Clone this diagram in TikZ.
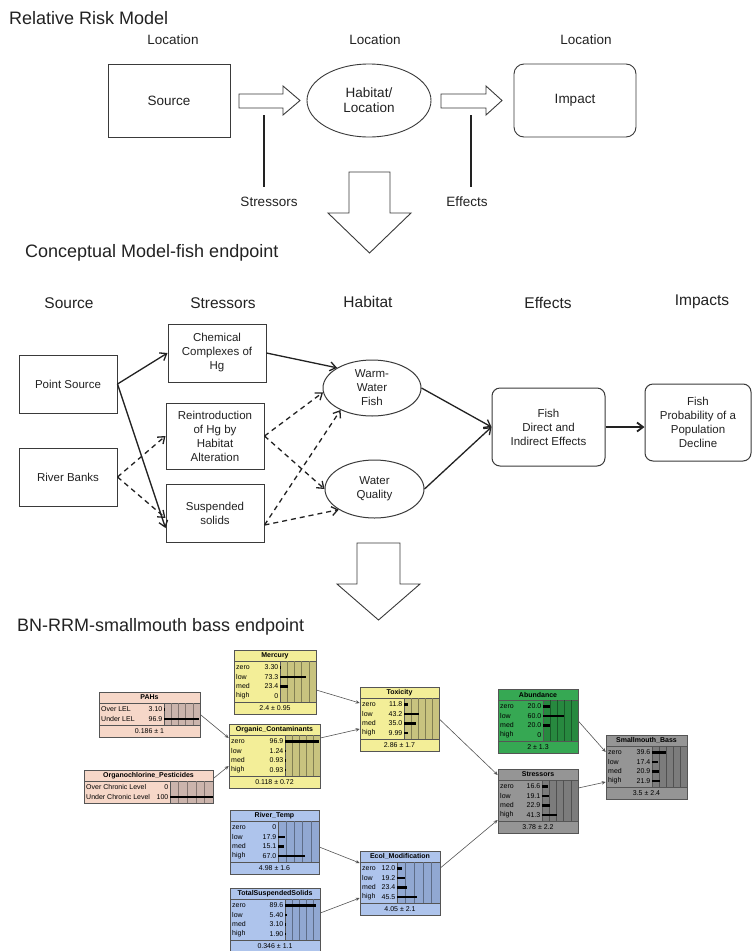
\documentclass[tikz,border=0pt]{standalone}
\usepackage{fontspec}
\setmainfont{Liberation Sans}
\usepackage{xcolor}
\usepackage{tikz}
\usetikzlibrary{shapes.geometric,arrows.meta,positioning,calc}
\definecolor{tinta}{HTML}{222222}
\definecolor{borde}{HTML}{3A3A3A}
\definecolor{bnborde}{HTML}{555555}
\definecolor{amarillo}{HTML}{F3EE98}
\definecolor{amarillooscuro}{HTML}{C8C37F}
\definecolor{rosa}{HTML}{F6D7C8}
\definecolor{rosaoscuro}{HTML}{CBB4AC}
\definecolor{verdebn}{HTML}{36A853}
\definecolor{verdebnoscuro}{HTML}{27893F}
\definecolor{grisbn}{HTML}{959595}
\definecolor{grisbnoscuro}{HTML}{7C7C7C}
\definecolor{azulbn}{HTML}{AEC4EC}
\definecolor{azulbnoscuro}{HTML}{91A8D2}
\tikzset{
  titulo/.style={anchor=west,font=\fontsize{18}{20}\selectfont,text=tinta,inner sep=0pt},
  rotulo/.style={font=\fontsize{13.5}{15}\selectfont,text=tinta,inner sep=0pt},
  cabecera/.style={font=\fontsize{15.5}{17}\selectfont,text=tinta,inner sep=0pt},
  bloque/.style={draw=borde,line width=0.9pt,minimum width=122pt,minimum height=73pt,align=center,font=\fontsize{13.5}{15}\selectfont,text=tinta},
  caja/.style={draw=borde,line width=1pt,align=center,font=\fontsize{11.5}{14}\selectfont,text=tinta,inner sep=2pt},
  cajar/.style={caja,rounded corners=8pt},
  elipse/.style={caja,ellipse,inner sep=0pt},
  hueca/.style={draw=borde,line width=0.9pt,fill=white,line join=miter},
  linea/.style={draw=tinta,line width=1.2pt},
  flecha/.style={-{Straight Barb[length=6pt,width=9pt]},line width=1.3pt,tinta},
  flechad/.style={flecha,dash pattern=on 5pt off 4pt},
  bncaja/.style={draw=bnborde,line width=0.6pt,inner sep=0pt},
  bnlinea/.style={draw=bnborde,line width=0.6pt},
  bntitulo/.style={font=\fontsize{7}{8}\selectfont\bfseries,inner sep=0pt},
  bntexto/.style={font=\fontsize{7}{8}\selectfont,inner sep=0pt},
  bnbarra/.style={line width=2.5pt,black},
  bnflecha/.style={-{Stealth[length=4pt,width=3.5pt]},line width=0.6pt,draw=bnborde},
}
% #1 nombre, #2 x, #3 y, #4 ancho, #5 inicio barras, #6 color, #7 titulo, #8 filas, #9 pie
\newcommand{\nodobn}[9]{%
  \foreach \etq/\val [count=\k] in {#8} {\xdef\nfilas{\k}}%
  \pgfmathsetmacro\yfilas{#3+11+9.5*\nfilas+3}%
  \if\relax\detokenize{#9}\relax\edef\ypie{\yfilas}\else\pgfmathsetmacro\ypie{\yfilas+12}\fi
  \node[bncaja,fill=#6,minimum width=#4,minimum height=\ypie-#3] (#1) at (#2+#4/2,{(#3+\ypie)/2}) {};
  \draw[bnlinea,fill=#6] (#2,#3) rectangle (#2+#4,#3+11);
  \node[bntitulo] at (#2+#4/2,#3+5.5) {#7};
  \draw[bnlinea,fill=#6oscuro] (#2+#5,#3+11) rectangle (#2+#4,\yfilas);
  \foreach \j in {1,...,4}
    \draw[draw=#6oscuro!65!black,line width=0.4pt] ({#2+#5+\j*(#4-#5)/5},#3+11) -- ({#2+#5+\j*(#4-#5)/5},\yfilas);
  \foreach \etq/\val [count=\k] in {#8} {
    \pgfmathsetmacro\yf{#3+11+1.5+(\k-0.5)*9.5}
    \node[bntexto,anchor=west] at (#2+2,\yf) {\etq};
    \node[bntexto,anchor=east] at (#2+#5-1.5,\yf) {\val};
    \draw[bnbarra] (#2+#5,\yf) -- ++({\val*(#4-#5)/100},0);
  }
  \if\relax\detokenize{#9}\relax\else
    \draw[bnlinea] (#2,\yfilas) -- (#2+#4,\yfilas);
    \node[bntexto] at (#2+#4/2,\yfilas+6) {#9};
  \fi
}

\begin{document}
\begin{tikzpicture}[x=1pt,y=-1pt]
  \useasboundingbox (0,0) rectangle (753,951);
  \fill[white] (0,0) rectangle (753,951);

  % modelo de riesgo relativo
  \node[titulo] (t1) at (9,18) {Relative Risk Model};
  \node[rotulo] (loc1) at (173,40) {Location};
  \node[rotulo] (loc2) at (375,40) {Location};
  \node[rotulo] (loc3) at (586,40) {Location};
  \node[bloque] (fuente) at (169,100.5) {Source};
  \node[bloque,ellipse,minimum width=124pt] (habitat) at (369,100.5) {Habitat/\\Location};
  \node[bloque,rounded corners=10pt] (impacto) at (575,100.5) {Impact};
  \draw[hueca] (239,94) -- (283,94) -- (283,86) -- (300,100.5) -- (283,115) -- (283,108) -- (239,108) -- cycle;
  \draw[hueca] (441,94) -- (486,94) -- (486,86) -- (502,100.5) -- (486,115) -- (486,108) -- (441,108) -- cycle;
  \draw[linea] (264,115) -- (264,187);
  \draw[linea] (471,115) -- (471,187);
  \node[rotulo] (estres) at (269,202) {Stressors};
  \node[rotulo] (efec) at (467,202) {Effects};
  \draw[hueca] (349,172) -- (390,172) -- (390,213) -- (411,213) -- (369.5,253) -- (328,213) -- (349,213) -- cycle;

  % modelo conceptual
  \node[titulo] (t2) at (25,253) {Conceptual Model-fish endpoint};
  \node[cabecera] (h1) at (69,303) {Source};
  \node[cabecera] (h2) at (223,303) {Stressors};
  \node[cabecera] (h3) at (368,302) {Habitat};
  \node[cabecera] (h4) at (548,303) {Effects};
  \node[cabecera] (h5) at (702,302) {Impacts};
  \node[caja,minimum width=98pt,minimum height=58pt] (puntual) at (68,384) {Point Source};
  \node[caja,minimum width=98pt,minimum height=58pt] (riberas) at (68,477) {River Banks};
  \node[caja,minimum width=98pt,minimum height=58pt] (quimico) at (217,353) {Chemical\\Complexes of\\Hg};
  \node[caja,minimum width=98pt,minimum height=66pt] (reintro) at (215,436) {Reintroduction\\of Hg by\\Habitat\\Alteration};
  \node[caja,minimum width=98pt,minimum height=58pt] (solidos) at (215,513) {Suspended\\solids};
  \node[elipse,minimum width=98pt,minimum height=56pt] (calida) at (372,388) {Warm-\\Water\\Fish};
  \node[elipse,minimum width=99pt,minimum height=58pt] (calidad) at (374.5,489) {Water\\Quality};
  \node[cajar,minimum width=113pt,minimum height=78pt] (efectos) at (548.5,427) {Fish\\Direct and\\Indirect Effects};
  \node[cajar,minimum width=106pt,minimum height=77pt] (impactos) at (698,422.5) {Fish\\Probability of a\\Population\\Decline};
  \draw[flecha] (puntual.east) -- (quimico.west);
  \draw[flecha] (puntual.east) -- ($(solidos.west)+(0,15)$);
  \draw[flechad] (riberas.east) -- (reintro.west);
  \draw[flechad] (riberas.east) -- ($(solidos.west)+(0,5)$);
  \draw[flecha] (quimico.east) -- (calida.150);
  \draw[flechad] (reintro.east) -- (calida.185);
  \draw[flechad] (reintro.east) -- (calidad.west);
  \draw[flechad] ($(solidos.east)+(0,12)$) -- (calida.215);
  \draw[flechad] ($(solidos.east)+(0,12)$) -- (calidad.210);
  \draw[flecha] (calida.east) -- (efectos.west);
  \draw[flecha] (calidad.east) -- (efectos.west);
  \draw[flecha,line width=1.8pt] (efectos.east) -- (efectos.east -| impactos.west);
  \draw[hueca] (357,543) -- (400,543) -- (400,584) -- (420,584) -- (378.5,620) -- (337,584) -- (357,584) -- cycle;

  % red bayesiana
  \node[titulo] (t3) at (17,627) {BN-RRM-smallmouth bass endpoint};
  \nodobn{merc}{234}{650}{82}{46}{amarillo}{Mercury}{zero/3.30,low/73.3,med/23.4,high/0}{2.4 ± 0.95}
  \nodobn{pahs}{99}{692}{101}{65}{rosa}{PAHs}{Over LEL/3.10,Under LEL/96.9}{0.186 ± 1}
  \nodobn{orga}{84}{770}{129}{86}{rosa}{Organochlorine\_Pesticides}{Over Chronic Level/0,Under Chronic Level/100}{}
  \nodobn{orgc}{229}{724}{91}{56}{amarillo}{Organic\_Contaminants}{zero/96.9,low/1.24,med/0.93,high/0.93}{0.118 ± 0.72}
  \nodobn{tox}{360}{687}{79}{44}{amarillo}{Toxicity}{zero/11.8,low/43.2,med/35.0,high/9.99}{2.86 ± 1.7}
  \nodobn{abun}{498}{689}{80}{45}{verdebn}{Abundance}{zero/20.0,low/60.0,med/20.0,high/0}{2 ± 1.3}
  \nodobn{estr}{498}{769}{80}{44}{grisbn}{Stressors}{zero/16.6,low/19.1,med/22.9,high/41.3}{3.78 ± 2.2}
  \nodobn{smb}{606}{735}{81}{46}{grisbn}{Smallmouth\_Bass}{zero/39.6,low/17.4,med/20.9,high/21.9}{3.5 ± 2.4}
  \nodobn{rtemp}{230}{810}{89}{48}{azulbn}{River\_Temp}{zero/0,low/17.9,med/15.1,high/67.0}{4.98 ± 1.6}
  \nodobn{tss}{230}{888}{90}{55}{azulbn}{TotalSuspendedSolids}{zero/89.6,low/5.40,med/3.10,high/1.90}{0.346 ± 1.1}
  \nodobn{ecol}{360}{851}{80}{37}{azulbn}{Ecol\_Modification}{zero/12.0,low/19.2,med/23.4,high/45.5}{4.05 ± 2.1}
  \draw[bnflecha] ($(merc.east)+(0,8)$) -- ($(tox.west)+(0,-16)$);
  \draw[bnflecha] ($(orgc.east)+(0,-18)$) -- ($(tox.west)+(0,10)$);
  \draw[bnflecha] (pahs.east) -- ($(orgc.west)+(0,-18)$);
  \draw[bnflecha] ($(orga.east)+(0,-8)$) -- ($(orgc.west)+(0,10)$);
  \draw[bnflecha] (tox.east) -- ($(estr.west)+(0,-26)$);
  \draw[bnflecha] ($(ecol.east)+(0,-15)$) -- ($(estr.west)+(0,19)$);
  \draw[bnflecha] (abun.east) -- ($(smb.west)+(0,-15)$);
  \draw[bnflecha] ($(estr.east)+(0,-13)$) -- ($(smb.west)+(0,15)$);
  \draw[bnflecha] ($(rtemp.east)+(0,5)$) -- ($(ecol.west)+(0,-20)$);
  \draw[bnflecha] ($(tss.east)+(0,-7)$) -- ($(ecol.west)+(0,15)$);
\end{tikzpicture}
\end{document}
